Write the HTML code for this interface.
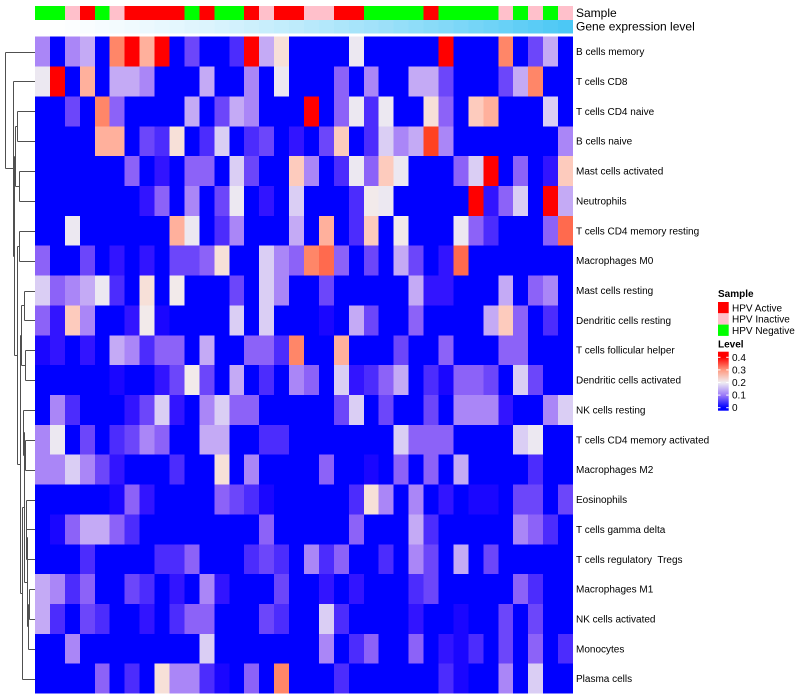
<!DOCTYPE html>
<html><head><meta charset="utf-8">
<style>
html,body{margin:0;padding:0;background:#fff;}
svg{display:block;}
text{font-family:"Liberation Sans",Arial,sans-serif;fill:#000;}
</style></head>
<body>
<svg id="s" width="800" height="700" xmlns="http://www.w3.org/2000/svg">
<defs>
<linearGradient id="lg" x1="0" y1="0" x2="0" y2="1">
<stop offset="0" stop-color="#ff0000"/>
<stop offset="0.095" stop-color="#ff0000"/>
<stop offset="0.31" stop-color="#ff9a80"/>
<stop offset="0.522" stop-color="#f0eef2"/>
<stop offset="0.74" stop-color="#9a78f8"/>
<stop offset="0.949" stop-color="#0000ff"/>
<stop offset="1" stop-color="#0000ff"/>
</linearGradient>
</defs>
<g id="cells" shape-rendering="crispEdges"></g>
<g id="dend" stroke="#505050" stroke-width="1" fill="none" shape-rendering="crispEdges"></g>

<text x="576" y="17" font-size="12">Sample</text>
<text x="576" y="30.5" font-size="12">Gene expression level</text>

<g font-size="10">
<text x="576" y="55.1">B cells memory</text>
<text x="576" y="85.0">T cells CD8</text>
<text x="576" y="114.9">T cells CD4 naive</text>
<text x="576" y="144.7">B cells naive</text>
<text x="576" y="174.6">Mast cells activated</text>
<text x="576" y="204.4">Neutrophils</text>
<text x="576" y="234.3">T cells CD4 memory resting</text>
<text x="576" y="264.2">Macrophages M0</text>
<text x="576" y="294.0">Mast cells resting</text>
<text x="576" y="323.9">Dendritic cells resting</text>
<text x="576" y="353.7">T cells follicular helper</text>
<text x="576" y="383.6">Dendritic cells activated</text>
<text x="576" y="413.5">NK cells resting</text>
<text x="576" y="443.3">T cells CD4 memory activated</text>
<text x="576" y="473.2">Macrophages M2</text>
<text x="576" y="503.0">Eosinophils</text>
<text x="576" y="532.9">T cells gamma delta</text>
<text x="576" y="562.8" xml:space="preserve">T cells regulatory  Tregs</text>
<text x="576" y="592.6">Macrophages M1</text>
<text x="576" y="622.5">NK cells activated</text>
<text x="576" y="652.3">Monocytes</text>
<text x="576" y="682.2">Plasma cells</text>
</g>

<!-- Legend -->
<text x="718" y="297" font-size="10" font-weight="bold">Sample</text>
<rect x="718" y="302" width="10.7" height="11.3" fill="#ff0000"/>
<rect x="718" y="313.3" width="10.7" height="11.3" fill="#ffc0cb"/>
<rect x="718" y="324.6" width="10.7" height="11.3" fill="#00ff00"/>
<text x="732" y="311.3" font-size="10">HPV Active</text>
<text x="732" y="322.6" font-size="10">HPV Inactive</text>
<text x="732" y="333.9" font-size="10">HPV Negative</text>

<text x="718" y="347.7" font-size="10" font-weight="bold">Level</text>
<rect x="718" y="351.7" width="10.7" height="59" fill="url(#lg)"/>
<g stroke="#fff" stroke-width="1">
<line x1="718" x2="720.5" y1="357.3" y2="357.3"/><line x1="726.2" x2="728.7" y1="357.3" y2="357.3"/>
<line x1="718" x2="720.5" y1="369.9" y2="369.9"/><line x1="726.2" x2="728.7" y1="369.9" y2="369.9"/>
<line x1="718" x2="720.5" y1="382.5" y2="382.5"/><line x1="726.2" x2="728.7" y1="382.5" y2="382.5"/>
<line x1="718" x2="720.5" y1="395.1" y2="395.1"/><line x1="726.2" x2="728.7" y1="395.1" y2="395.1"/>
<line x1="718" x2="720.5" y1="407.7" y2="407.7"/><line x1="726.2" x2="728.7" y1="407.7" y2="407.7"/>
</g>
<g font-size="10">
<text x="732" y="360.8">0.4</text>
<text x="732" y="373.4">0.3</text>
<text x="732" y="386.0">0.2</text>
<text x="732" y="398.6">0.1</text>
<text x="732" y="411.2">0</text>
</g>
</svg>
<script>
(function(){
var NS="http://www.w3.org/2000/svg";
var P={B:'#0000ff','0':'#1a06ff','1':'#3214ff','2':'#4c2cfd','3':'#6c46fa','4':'#8c62f8','5':'#aa86f7','6':'#c4aaf5','7':'#dacef4','8':'#ece8f1','w':'#f2eaea','9':'#f7e0d8','a':'#fdcbbd','b':'#ffb09c','c':'#ff8668','d':'#ff6a4e','e':'#ff4222','f':'#ff0000'};
var rows=[
"5B56BcfbfB3BB2f69B"+"BBB8BBBBBfBBBcB36B",
"8fBbB665BBB6BB5B8B"+"BB4B5BB663BBB36cBB",
"BB3Bc4BBBB6B365BBB"+"fB4828BB94BabBBB7B",
"BBBBbbB329B27B23B1"+"B3aB2756e5BBBBBBB5",
"BBBBBB4B1B44B73BBa"+"5B284a8BBB47fB4B1a",
"BBBBBBB14B5B38B1B7"+"BBB2w8BBBBBf147Bf6",
"BB8BBBBBBb8B25BBB6"+"BbB2aBwBBB842BBB4d",
"4BB3B1B1B3349BB754"+"cd4B3B63B1dBBBBBBB",
"745682B9BwBBB3B75B"+"B3BBBBB611BBB6B45B",
"41a5BB1w0BBBB7B7BB"+"B0B63BB4BBBB6a4B2B",
"01B1B65244B6BB442c"+"BBbBBB3BB4BBB44BBB",
"BBBBB0BB13w3B6B2B5"+"4B71246B20443B73BB",
"B52BBB1371B5744BBB"+"BB37B3BB3B5551BB57",
"58B3B2354BB66BB22B"+"BBBBBB7444BBBB78BB",
"557531BBB2BB9B5BBB"+"B4BB0B4B4B6BBBB2BB",
"BBBBB041BBBB4320BB"+"BBB295B5B1B00B33B3",
"B046642BBBBBBBB4BB"+"BBB4BBB62BBBBB542B",
"BBB2BBBB224BBB232B"+"524BB2B53B6B3BBBBB",
"6524BB32B1B51BBB3B"+"B1B1BBB23BBBBB42BB",
"62B32BB1B244BBB32B"+"B72BBBB1BB0BB3B3BB",
"BB5BBBBBBBB7BBBBBB"+"B5B24BB4B102B3B4B2",
"BBBB4B2B95520B4BcB"+"BB2BBBBBB20BB5B7BB"
];
var samp="GGPRGPRRRRGRGGRPRRPPRRGGGGRGGGGPGPGP";
var SC={G:'#00ff00',P:'#ffc0cb',R:'#ff0000'};
var x0=35,cw=538/36,y0=36.7,rh=(693.6-36.7)/22;
var g=document.getElementById('cells');
function rect(x,y,w,h,f){var r=document.createElementNS(NS,'rect');r.setAttribute('x',x.toFixed(2));r.setAttribute('y',y.toFixed(2));r.setAttribute('width',w.toFixed(2));r.setAttribute('height',h.toFixed(2));r.setAttribute('fill',f);g.appendChild(r);}
function hex(n){n=Math.max(0,Math.min(255,Math.round(n)));return (n<16?'0':'')+n.toString(16);}
for(var j=0;j<36;j++){
  var x=x0+j*cw, w=(j==35)?cw:cw+0.6;
  rect(x,6,w,14,SC[samp[j]]);
  var t=Math.pow(j/35,1.4);
  rect(x,20,w,13.3,'#'+hex(255-(255-76)*t)+hex(255-(255-200)*t)+hex(255-(255-245)*t));
  for(var i=0;i<22;i++){
    var c=rows[i][j];
    rect(x,y0+i*rh,w,(i==21)?rh:rh+0.6,P[c]||'#0000ff');
  }
}
// dendrogram
var d=document.getElementById('dend');
function ln(x1,y1,x2,y2){var l=document.createElementNS(NS,'line');l.setAttribute('x1',x1);l.setAttribute('y1',y1);l.setAttribute('x2',x2);l.setAttribute('y2',y2);d.appendChild(l);}
function T(x,a,b){return {x:x,a:a,b:b};}
function rc(i){return y0+rh*(i+0.5);}
var tree=T(5.3,0,T(12.7,1,T(14,T(14.7,T(17.3,2,3),T(19.3,4,5)),T(17,T(19.3,6,7),T(20,T(21,T(24.3,8,9),T(25,10,11)),T(21.7,T(24,T(23.3,12,T(25,13,14)),T(26.5,T(25.5,T(26,15,16),17),T(28.3,T(29.3,18,19),20))),21))))));
function draw(n){
  if(typeof n==='number') return {x:35,y:rc(n)};
  var a=draw(n.a),b=draw(n.b);
  var X=Math.round(n.x)+0.5;
  var ya=Math.round(a.y)+0.5,yb=Math.round(b.y)+0.5;
  ln(X,ya,X,yb);
  ln(X,ya,a.x,ya);
  ln(X,yb,b.x,yb);
  return {x:X,y:(a.y+b.y)/2};
}
draw(tree);
})();
</script>
</body></html>
